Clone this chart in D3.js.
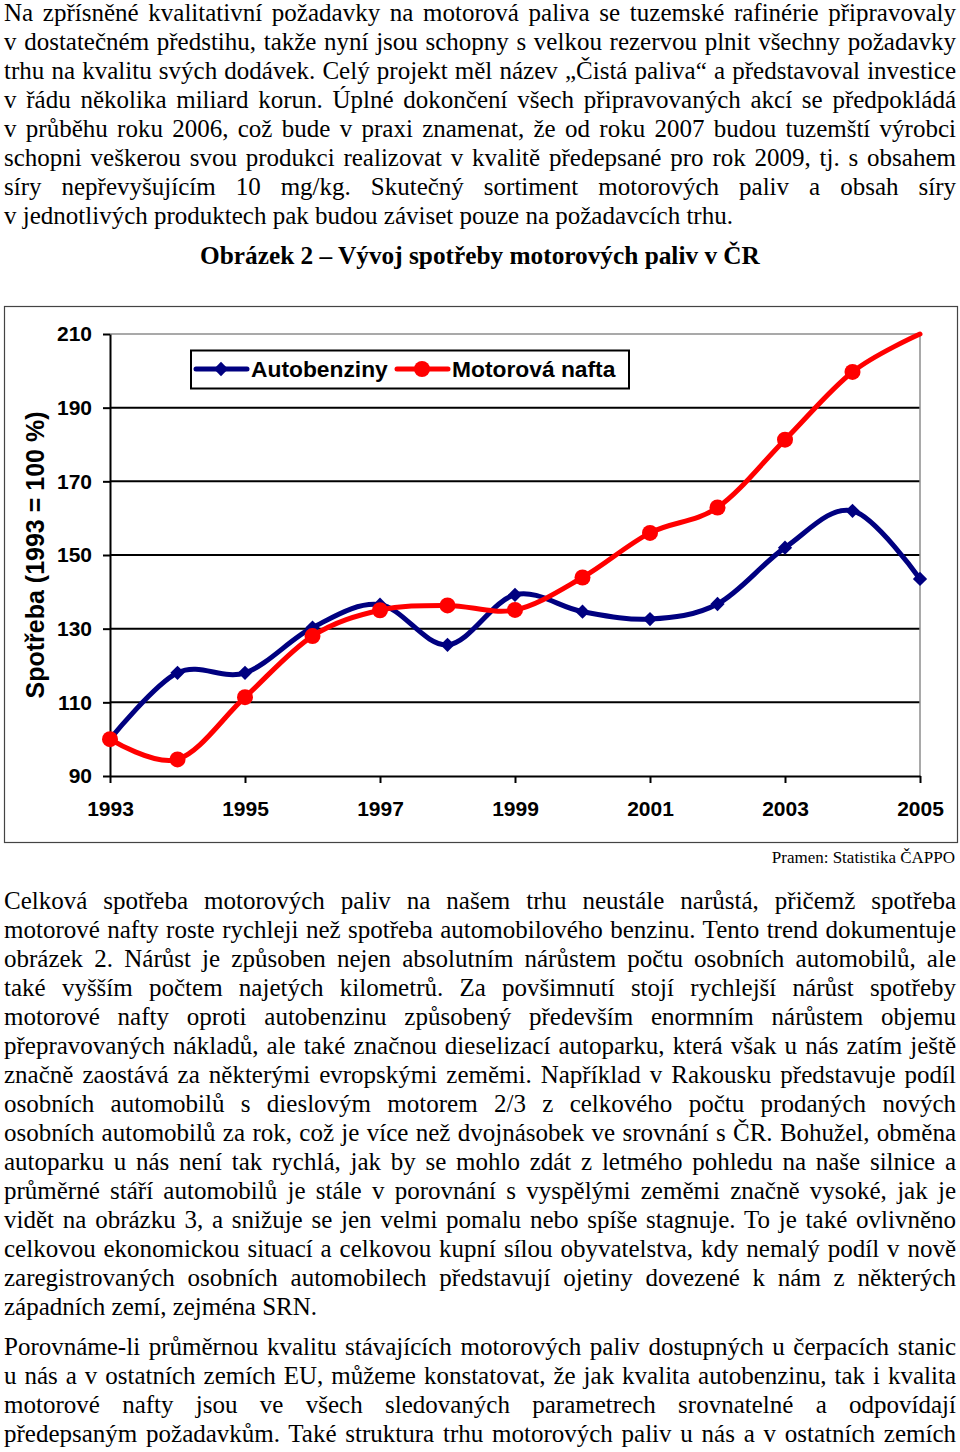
<!DOCTYPE html>
<html>
<head>
<meta charset="utf-8">
<script src="https://cdn.jsdelivr.net/npm/d3@7"></script>
<style>
  body { margin: 0; background: #fff; }
  #page { position: relative; width: 960px; height: 1452px; overflow: hidden; }
  .ln { position: absolute; left: 4px; width: 952px; font-family: "Liberation Serif", "Times New Roman", serif;
        font-size: 25px; line-height: 29px; color: #000; white-space: nowrap; }
  .just { text-align: justify; text-align-last: justify; white-space: normal; }
</style>
</head>
<body>
<div id="page"></div>
<script>
// data (1993 = 100 %)
var years = [1993,1994,1995,1996,1997,1998,1999,2000,2001,2002,2003,2004,2005]
var benzin = [100,118,118,130.3,136.5,125.6,139.2,134.6,132.6,136.7,152,162,143.5]
var nafta = [100,94.5,111.4,128,135,136.3,135.1,143.9,156,162.9,181.3,199.7,210]
var seriesNames = ["Autobenziny","Motorová nafta"]
var yTicks = [90,110,130,150,170,190,210]
var xTicks = [1993,1995,1997,1999,2001,2003,2005]

var para1 = [
  "Na zpřísněné kvalitativní požadavky na motorová paliva se tuzemské rafinérie připravovaly",
  "v dostatečném předstihu, takže nyní jsou schopny s velkou rezervou plnit všechny požadavky",
  "trhu na kvalitu svých dodávek. Celý projekt měl název „Čistá paliva“ a představoval investice",
  "v řádu několika miliard korun. Úplné dokončení všech připravovaných akcí se předpokládá",
  "v průběhu roku 2006, což bude v praxi znamenat, že od roku 2007 budou tuzemští výrobci",
  "schopni veškerou svou produkci realizovat v kvalitě předepsané pro rok 2009, tj. s obsahem",
  "síry nepřevyšujícím 10 mg/kg. Skutečný sortiment motorových paliv a obsah síry",
  "v jednotlivých produktech pak budou záviset pouze na požadavcích trhu."
]
var para2 = [
  "Celková spotřeba motorových paliv na našem trhu neustále narůstá, přičemž spotřeba",
  "motorové nafty roste rychleji než spotřeba automobilového benzinu. Tento trend dokumentuje",
  "obrázek 2. Nárůst je způsoben nejen absolutním nárůstem počtu osobních automobilů, ale",
  "také vyšším počtem najetých kilometrů. Za povšimnutí stojí rychlejší nárůst spotřeby",
  "motorové nafty oproti autobenzinu způsobený především enormním nárůstem objemu",
  "přepravovaných nákladů, ale také značnou dieselizací autoparku, která však u nás zatím ještě",
  "značně zaostává za některými evropskými zeměmi. Například v Rakousku představuje podíl",
  "osobních automobilů s dieslovým motorem 2/3 z celkového počtu prodaných nových",
  "osobních automobilů za rok, což je více než dvojnásobek ve srovnání s ČR. Bohužel, obměna",
  "autoparku u nás není tak rychlá, jak by se mohlo zdát z letmého pohledu na naše silnice a",
  "průměrné stáří automobilů je stále v porovnání s vyspělými zeměmi značně vysoké, jak je",
  "vidět na obrázku 3, a snižuje se jen velmi pomalu nebo spíše stagnuje. To je také ovlivněno",
  "celkovou ekonomickou situací a celkovou kupní sílou obyvatelstva, kdy nemalý podíl v nově",
  "zaregistrovaných osobních automobilech představují ojetiny dovezené k nám z některých",
  "západních zemí, zejména SRN."
]
var para3 = [
  "Porovnáme-li průměrnou kvalitu stávajících motorových paliv dostupných u čerpacích stanic",
  "u nás a v ostatních zemích EU, můžeme konstatovat, že jak kvalita autobenzinu, tak i kvalita",
  "motorové nafty jsou ve všech sledovaných parametrech srovnatelné a odpovídají",
  "předepsaným požadavkům. Také struktura trhu motorových paliv u nás a v ostatních zemích"
]
var title = "Obrázek 2 – Vývoj spotřeby motorových paliv v ČR"
var source = "Pramen: Statistika ČAPPO"
var yLabel = "Spotřeba (1993 = 100 %)"

var page = d3.select("#page")

// text blocks, one div per line; the last line of a finished paragraph is left aligned
function drawPara(lines, top, lastOpen){
  page.selectAll(null)
    .data(lines)
    .enter()
    .append("div")
    .attr("class",function(d,i){
      return (i<lines.length-1 || lastOpen) ? "ln just" : "ln"
    })
    .style("top",function(d,i){ return (top+i*29)+"px" })
    .text(function(d){ return d })
}
drawPara(para1, -2, false)
drawPara(para2, 886, false)
drawPara(para3, 1332, true)

var svg = page.append("svg")
  .attr("width",960).attr("height",1452)
  .style("position","absolute").style("left",0).style("top",0)
  .style("pointer-events","none")

svg.append("text")
  .attr("x",480).attr("y",264)
  .attr("text-anchor","middle")
  .style("font-family","'Liberation Serif', 'Times New Roman', serif")
  .style("font-weight","bold").style("font-size","25.3px")
  .text(title)

// chart frame
svg.append("rect")
  .attr("x",4.5).attr("y",306.5).attr("width",953).attr("height",536)
  .attr("fill","none").attr("stroke","#444").attr("stroke-width",1.2)

var x = d3.scaleLinear().domain([1993,2005]).range([110,920])
var y = d3.scaleLinear().domain([90,210]).range([776,334])

// gridlines
svg.selectAll(".grid")
  .data(yTicks.slice(1))
  .enter()
  .append("line")
  .attr("class","grid")
  .attr("x1",x(1993)).attr("x2",x(2005))
  .attr("y1",function(d){ return y(d) }).attr("y2",function(d){ return y(d) })
  .attr("stroke",function(d){ return d==210 ? "#8c8c8c" : "#000" })
  .attr("stroke-width",function(d){ return d==210 ? 1.5 : 2 })

svg.append("line")
  .attr("x1",x(2005)).attr("x2",x(2005))
  .attr("y1",y(210)).attr("y2",y(90))
  .attr("stroke","#8c8c8c").attr("stroke-width",1.5)

var axisFont = "'Liberation Sans', Arial, sans-serif"

var yAxis = svg.append("g")
  .attr("transform","translate("+x(1993)+",0)")
  .call(d3.axisLeft(y).tickValues(yTicks).tickSize(7).tickPadding(11).tickSizeOuter(0))
var xAxis = svg.append("g")
  .attr("transform","translate(0,"+y(90)+")")
  .call(d3.axisBottom(x).tickValues(xTicks).tickFormat(d3.format("d")).tickSize(7).tickPadding(18).tickSizeOuter(0))

;[yAxis,xAxis].forEach(function(g){
  g.select(".domain").attr("stroke","#000").attr("stroke-width",2)
  g.selectAll(".tick line").attr("stroke","#000").attr("stroke-width",2)
  g.selectAll(".tick text")
    .attr("fill","#000")
    .style("font-family",axisFont).style("font-weight","bold").style("font-size","21px")
})

svg.append("text")
  .attr("transform","translate(44,555) rotate(-90)")
  .attr("text-anchor","middle")
  .style("font-family",axisFont).style("font-weight","bold").style("font-size","25px")
  .text(yLabel)

// series
var series = [
  {name: seriesNames[0], values: benzin, color: "#000080", shape: "diamond"},
  {name: seriesNames[1], values: nafta, color: "#ff0000", shape: "circle"}
]

var line = d3.line()
  .x(function(d){ return x(d.year) })
  .y(function(d){ return y(d.v) })
  .curve(d3.curveCardinal.tension(0))

var diamond = d3.symbol().type(d3.symbolDiamond2).size(130)

series.forEach(function(s){
  var pts = years.map(function(yr,i){ return {year: yr, v: s.values[i]} })
  svg.append("path")
    .datum(pts)
    .attr("d",line)
    .attr("fill","none")
    .attr("stroke",s.color)
    .attr("stroke-width",5)
    .attr("stroke-linecap","round")
    .attr("stroke-linejoin","round")

  var marks = svg.selectAll(null)
    .data(pts.filter(function(d){ return d.v < 210 }))
    .enter()
  if (s.shape=="diamond"){
    marks.append("path")
      .attr("d",diamond)
      .attr("transform",function(d){ return "translate("+x(d.year)+","+y(d.v)+")" })
      .attr("fill",s.color)
  } else {
    marks.append("circle")
      .attr("cx",function(d){ return x(d.year) })
      .attr("cy",function(d){ return y(d.v) })
      .attr("r",8)
      .attr("fill",s.color)
  }
})

// legend
var legend = svg.append("g")
legend.append("rect")
  .attr("x",191).attr("y",350.5).attr("width",438).attr("height",38)
  .attr("fill","#fff").attr("stroke","#000").attr("stroke-width",2)

var legendX = [196,397]
series.forEach(function(s,i){
  var g = legend.append("g").attr("transform","translate("+legendX[i]+",369)")
  g.append("line").attr("x1",0).attr("x2",51)
    .attr("stroke",s.color).attr("stroke-width",5).attr("stroke-linecap","round")
  if (s.shape=="diamond"){
    g.append("path").attr("d",diamond).attr("transform","translate(25,0)").attr("fill",s.color)
  } else {
    g.append("circle").attr("cx",25).attr("r",8).attr("fill",s.color)
  }
  g.append("text")
    .attr("x",55).attr("y",8)
    .style("font-family",axisFont).style("font-weight","bold").style("font-size","22.8px")
    .text(s.name)
})

svg.append("text")
  .attr("x",955).attr("y",863)
  .attr("text-anchor","end")
  .style("font-family","'Liberation Serif', 'Times New Roman', serif")
  .style("font-size","17px")
  .text(source)
</script>
</body>
</html>
